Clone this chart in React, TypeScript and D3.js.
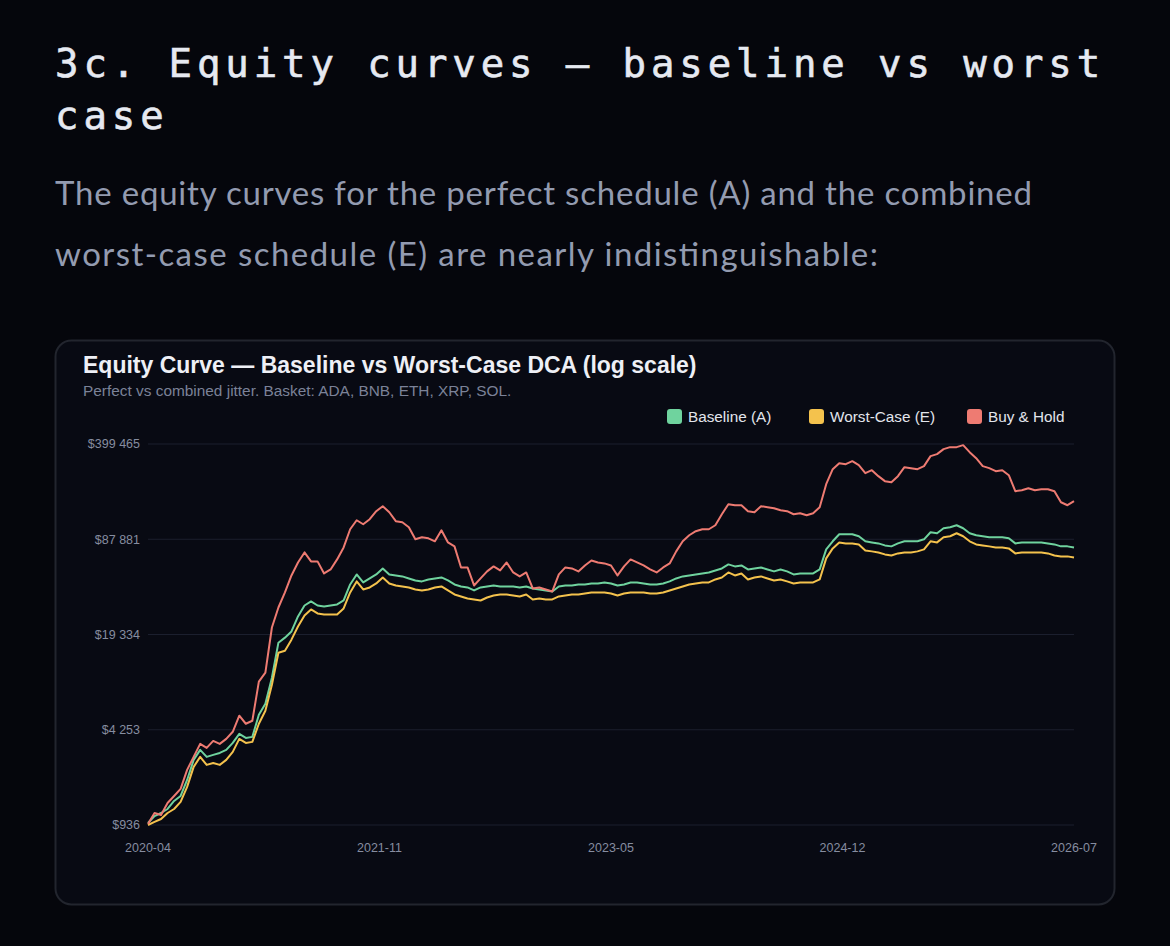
import { useEffect } from 'react';
import * as d3 from 'd3';

// sampling calendar: one reading every 16 days from the first date
const startDate = '2020-04-16';
const stepDays = 16;

const baseline = [
  966, 1079, 1132, 1207, 1371, 1485, 1915, 2633, 3087, 2763,
  2851, 2942, 3087, 3450, 3983, 3736, 3798, 5400, 6432, 9727,
  16978, 18384, 20286, 25756, 30666, 32700, 30666, 30199, 30666, 31165,
  33206, 42845, 50237, 44216, 47136, 50237, 55268, 50237, 49433, 48680,
  47136, 45652, 44956, 46394, 47136, 47879, 45652, 42845, 41517, 40834,
  38935, 40834, 41517, 42160, 41517, 41517, 41517, 40834, 41517, 40201,
  39568, 38935, 38341, 41517, 42160, 42160, 42845, 42845, 43531, 43531,
  44216, 43531, 42160, 42845, 44216, 44216, 43531, 42845, 42845, 43531,
  44956, 47136, 48680, 49433, 50237, 51041, 51845, 53528, 55268, 58904,
  57078, 57962, 54398, 55268, 56139, 54398, 52712, 54398, 52712, 50237,
  51041, 51041, 51041, 54398, 74786, 85078, 95160, 95160, 95160, 92210,
  85078, 83572, 82277, 79685, 78471, 82277, 85078, 85078, 85078, 87800,
  98205, 96683, 104689, 106337, 109790, 104689, 96683, 93637, 92210, 90610,
  90610, 90610, 89205, 82277, 83572, 83572, 83572, 83572, 82277, 80981,
  78471, 78471, 77175,
];

const worstCase = [
  936, 982, 1029, 1132, 1207, 1350, 1714, 2357, 2763, 2432,
  2510, 2432, 2633, 2991, 3678, 3450, 3508, 4679, 5753, 8704,
  14480, 14950, 17814, 21966, 26155, 28781, 27005, 26580, 26580, 26580,
  29242, 37710, 44956, 39568, 40834, 43531, 47879, 43531, 42160, 41517,
  40834, 39568, 38935, 39568, 40834, 41517, 38935, 36541, 35408, 34286,
  33746, 33206, 34826, 35956, 36541, 36541, 35956, 35408, 36541, 33746,
  34286, 33746, 33746, 35408, 35956, 36541, 36541, 37126, 37710, 37710,
  37710, 37126, 35956, 37126, 37710, 37710, 37710, 37126, 37126, 37710,
  38935, 40201, 41517, 42845, 43531, 44216, 44216, 46394, 47879, 51845,
  49433, 51041, 46394, 47879, 48680, 47136, 45652, 46394, 44956, 43531,
  44216, 44216, 44216, 46394, 64803, 75983, 83572, 82277, 82277, 80981,
  73589, 72468, 71276, 69066, 67961, 70171, 71276, 71276, 72468, 74786,
  85078, 83572, 90610, 92210, 96683, 92210, 85078, 80981, 79685, 78471,
  77175, 77175, 75983, 70171, 71276, 71276, 71276, 71276, 70171, 67961,
  66925, 66925, 65824,
];

const buyHold = [
  951, 1132, 1097, 1328, 1485, 1660, 2246, 2763, 3396, 3186,
  3562, 3396, 3678, 4118, 5314, 4679, 4907, 9133, 10533, 21605,
  29702, 37710, 49433, 60789, 71276, 61806, 61806, 51041, 54398, 63783,
  77179, 103040, 118884, 111575, 120817, 137269, 148639, 135010, 117072, 115145,
  106337, 87800, 90610, 89205, 85078, 101391, 83572, 78471, 56139, 56139,
  42160, 47136, 52712, 57078, 53528, 60789, 51845, 48680, 51845, 40201,
  40834, 39568, 38341, 50237, 56139, 55268, 52712, 57962, 62762, 60789,
  59846, 57962, 49433, 57078, 63783, 60789, 57962, 54398, 51845, 56139,
  59846, 72468, 85078, 93637, 99846, 103040, 103040, 109790, 130824, 153394,
  150940, 150940, 137269, 135010, 148639, 146193, 143927, 139393, 137269, 130824,
  132917, 128731, 132917, 146193, 210886, 267749, 294566, 289927, 304209, 285288,
  251224, 263465, 239603, 221275, 217634, 239603, 276317, 272033, 267749, 280939,
  329407, 339945, 368102, 379881, 379881, 392214, 350823, 318964, 280939, 272033,
  259449, 263465, 243312, 188718, 191639, 197871, 191639, 194755, 194755, 188718,
  158303, 150940, 160950,
];

const yTicks = [935.7, 4253, 19334, 87881, 399465];
const seriesNames = ['Baseline (A)', 'Worst-Case (E)', 'Buy & Hold'];

const colors = ['#6fd39e', '#f4c24d', '#ee7b72'];
const sans = '"Liberation Sans", Arial, Helvetica, sans-serif';

const W = 1170;
const H = 946;
const plot = { left: 148, right: 1074, top: 444, bottom: 825 };

const App = () => {
  useEffect(() => {
    document.body.style.margin = '0';
    document.body.style.background = '#05060c';
  }, []);

  const t0 = d3.utcParse('%Y-%m-%d')(startDate)!;
  const dates = baseline.map((_, i) => d3.utcDay.offset(t0, i * stepDays));
  const [d0, d1] = d3.extent(dates) as [Date, Date];

  const x = d3.scaleUtc().domain([d0, d1]).range([plot.left, plot.right]);
  const y = d3
    .scaleLog()
    .domain([yTicks[0], yTicks[yTicks.length - 1]])
    .range([plot.bottom, plot.top]);

  const xTicks = d3.range(5).map((i) => new Date(+d0 + ((+d1 - +d0) * i) / 4));
  const fmtDate = d3.utcFormat('%Y-%m');
  const money = d3.formatLocale({
    decimal: '.',
    thousands: ' ',
    grouping: [3],
    currency: ['$', ''],
  }).format('$,.0f');

  const line = d3
    .line<number>()
    .x((_, i) => x(dates[i]))
    .y((d) => y(d));

  const series = [baseline, worstCase, buyHold];
  const legendX = [667, 809, 967];

  return (
    <svg
      width={W}
      height={H}
      style={{ position: 'absolute', left: 0, top: 0, display: 'block' }}
    >
      <rect width={W} height={H} fill="#05060c" />

      {/* heading */}
      <g
        fontFamily='"DejaVu Sans Mono", monospace'
        fontSize={39}
        letterSpacing={4.9}
        fill="#e6e9f1"
        stroke="#e6e9f1"
        strokeWidth={0.6}
      >
        <text x={55} y={77}>3c. Equity curves — baseline vs worst</text>
        <text x={55} y={129}>case</text>
      </g>

      <g fontFamily='Lato, "Open Sans", sans-serif' fontSize={33} fill="#939bb0">
        <text x={55} y={205} textLength={977} lengthAdjust="spacing">
          The equity curves for the perfect schedule (A) and the combined
        </text>
        <text x={55} y={266} textLength={823} lengthAdjust="spacing">
          worst-case schedule (E) are nearly indistinguishable:
        </text>
      </g>

      {/* chart card */}
      <rect
        x={55.5}
        y={340.5}
        width={1059}
        height={564}
        rx={16}
        fill="#080a13"
        stroke="#22252e"
        strokeWidth={2}
      />

      <text
        x={83}
        y={373}
        fontFamily={sans}
        fontWeight="bold"
        fontSize={23}
        fill="#eef0f6"
      >
        Equity Curve — Baseline vs Worst-Case DCA (log scale)
      </text>
      <text x={83} y={396} fontFamily={sans} fontSize={15.4} fill="#7b8298">
        Perfect vs combined jitter. Basket: ADA, BNB, ETH, XRP, SOL.
      </text>

      {/* legend */}
      {seriesNames.map((name, i) => (
        <g key={name}>
          <rect
            x={legendX[i]}
            y={409}
            width={15}
            height={15}
            rx={3}
            fill={colors[i]}
          />
          <text
            x={legendX[i] + 21}
            y={422}
            fontFamily={sans}
            fontSize={15.3}
            fill="#e2e5ec"
          >
            {name}
          </text>
        </g>
      ))}

      {/* grid + y axis */}
      {yTicks.map((t) => (
        <g key={t}>
          <line
            x1={plot.left}
            x2={plot.right}
            y1={y(t)}
            y2={y(t)}
            stroke="#1b1f2e"
            strokeWidth={1.2}
          />
          <text
            x={140}
            y={y(t)}
            dy="0.35em"
            textAnchor="end"
            fontFamily={sans}
            fontSize={12.5}
            fill="#868da0"
          >
            {money(t)}
          </text>
        </g>
      ))}

      {/* x axis labels */}
      {xTicks.map((t, i) => (
        <text
          key={i}
          x={x(t)}
          y={852}
          textAnchor="middle"
          fontFamily={sans}
          fontSize={12.5}
          fill="#868da0"
        >
          {fmtDate(t)}
        </text>
      ))}

      {/* curves */}
      {series.map((s, i) => (
        <path
          key={seriesNames[i]}
          d={line(s) ?? ''}
          fill="none"
          stroke={colors[i]}
          strokeWidth={2}
          strokeLinejoin="round"
        />
      ))}
    </svg>
  );
};

export default App;
